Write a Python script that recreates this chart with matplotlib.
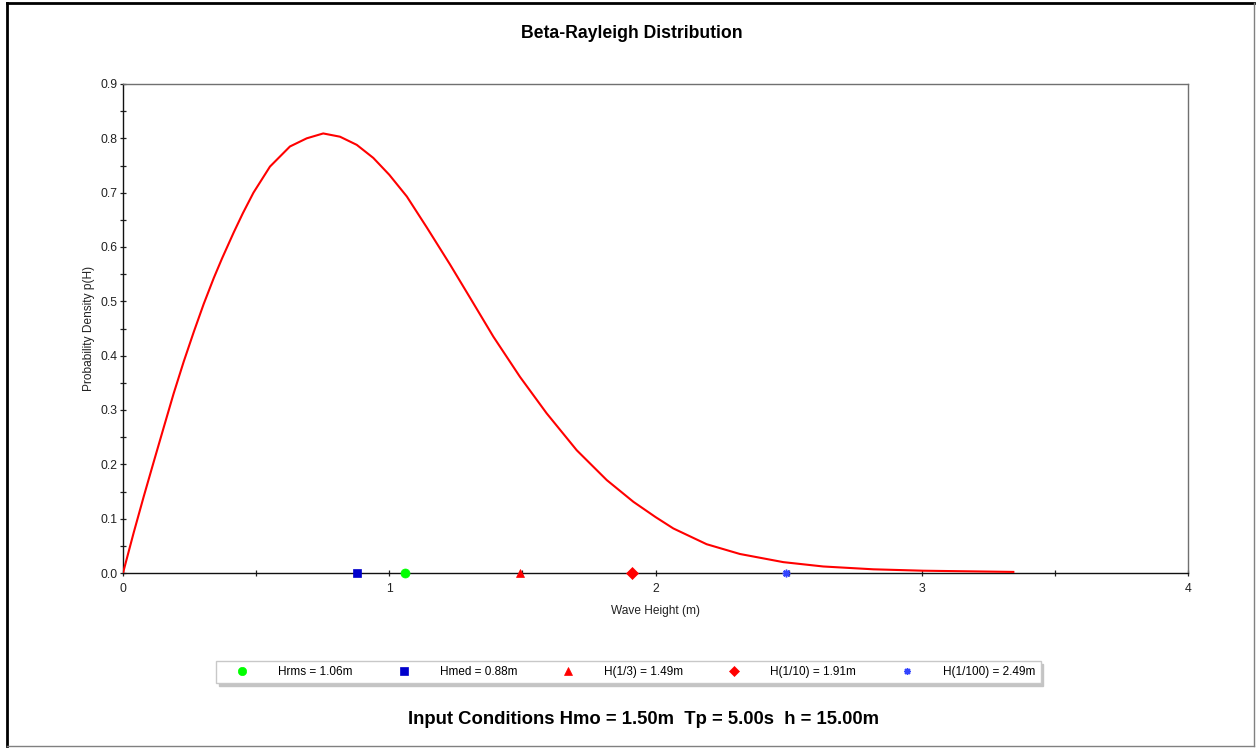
import matplotlib.pyplot as plt
from matplotlib.lines import Line2D
from matplotlib.ticker import MultipleLocator, FormatStrFormatter

plt.rcParams['font.family'] = ['Liberation Sans', 'DejaVu Sans']

# Beta-Rayleigh density
wave_height = [0, 0.040, 0.078, 0.115, 0.153, 0.190, 0.228, 0.266, 0.303, 0.341,
               0.372, 0.416, 0.45, 0.49, 0.552, 0.627, 0.69, 0.752, 0.815, 0.878,
               0.94, 1.0, 1.066, 1.141, 1.228, 1.303, 1.391, 1.491, 1.591, 1.704,
               1.817, 1.917, 2.0, 2.067, 2.192, 2.317, 2.48, 2.63, 2.818, 3.006,
               3.19, 3.344]
density = [0, 0.074, 0.141, 0.204, 0.268, 0.330, 0.389, 0.444, 0.495, 0.543,
           0.579, 0.627, 0.662, 0.700, 0.748, 0.785, 0.800, 0.809, 0.803, 0.788,
           0.764, 0.733, 0.693, 0.636, 0.568, 0.507, 0.435, 0.361, 0.294, 0.226,
           0.171, 0.131, 0.103, 0.082, 0.053, 0.035, 0.020, 0.012, 0.0068, 0.0042,
           0.003, 0.002]

# characteristic heights
stat_names = ['Hrms', 'Hmed', 'H(1/3)', 'H(1/10)', 'H(1/100)']
stat_values = [1.06, 0.88, 1.49, 1.91, 2.49]
stat_markers = ['o', 's', '^', 'D', (8, 2, 0)]
stat_colors = ['#00ff00', '#0000cc', '#ff0000', '#ff0000', '#3344ff']
stat_sizes = [6.5, 6, 6, 6, 5.5]

hmo, tp, depth = 1.50, 5.00, 15.00

W, H = 1257, 748
fig = plt.figure(figsize=(W / 100, H / 100), dpi=100)
ax = fig.add_axes([123 / W, 1 - 573 / H, (1188 - 123) / W, (573 - 84) / H])

ax.plot(wave_height, density, color='red', lw=1.5, zorder=3,
        solid_joinstyle='round')

handles = []
for name, val, mk, col, ms in zip(stat_names, stat_values, stat_markers,
                                  stat_colors, stat_sizes):
    star = mk == stat_markers[-1]
    ax.plot([val], [0], marker=mk, color=col, ms=ms, ls='none',
            mew=1.1 if star else 0.5, clip_on=False, zorder=4)
    handles.append(Line2D([], [], marker=mk, color=col, ms=ms - 0.5, ls='none',
                          mew=1.0 if star else 0.5,
                          label='%s = %.2fm' % (name, val)))

ax.set_xlim(0, 4)
ax.set_ylim(0, 0.9)
ax.xaxis.set_major_locator(MultipleLocator(1))
ax.xaxis.set_minor_locator(MultipleLocator(0.5))
ax.yaxis.set_major_locator(MultipleLocator(0.1))
ax.yaxis.set_minor_locator(MultipleLocator(0.05))
ax.yaxis.set_major_formatter(FormatStrFormatter('%.1f'))
ax.tick_params(which='both', direction='inout', length=5, width=0.9,
               labelsize=8.8, color='#222222', labelcolor='#222222')
ax.tick_params(axis='y', pad=1.5)
ax.tick_params(axis='x', pad=5)

for side in ['left', 'bottom']:
    ax.spines[side].set_color('#111111')
    ax.spines[side].set_linewidth(1.0)
for side in ['top', 'right']:
    ax.spines[side].set_color('#707070')
    ax.spines[side].set_linewidth(1.0)

ax.set_xlabel('Wave Height (m)', fontsize=8.6, labelpad=7, color='#222222')
ax.set_ylabel('Probability Density p(H)', fontsize=8.6, labelpad=4, color='#222222')

fig.text(632 / W, 1 - 33 / H, 'Beta-Rayleigh Distribution', ha='center',
         va='center', fontsize=12.7, fontweight='bold')
fig.text(643 / W, 1 - 720 / H,
         'Input Conditions Hmo = %.2fm  Tp = %.2fs  h = %.2fm' % (hmo, tp, depth),
         ha='center', va='center', fontsize=13.3, fontweight='bold')

leg = fig.legend(handles=handles, loc='upper left',
                 bbox_to_anchor=(216 / W, 1 - 661 / H), ncol=5, fontsize=8.5,
                 frameon=True, fancybox=False, borderpad=0.42, handlelength=3.58,
                 handletextpad=1.27, columnspacing=2.52, borderaxespad=0,
                 numpoints=1, shadow={'color': '#c4c4c4', 'alpha': 1})
leg.get_frame().set_edgecolor('#c8c8c8')
leg.get_frame().set_linewidth(1.0)

# outer panel border
fig.add_artist(Line2D([7 / W, 7 / W], [1 - 3 / H, 1 - 746 / H], color='black', lw=2))
fig.add_artist(Line2D([7 / W, 1254 / W], [1 - 3 / H, 1 - 3 / H], color='black', lw=2))
fig.add_artist(Line2D([1254 / W, 1254 / W], [1 - 3 / H, 1 - 746 / H], color='#808080', lw=1))
fig.add_artist(Line2D([7 / W, 1254 / W], [1 - 746 / H, 1 - 746 / H], color='#808080', lw=1))

fig.savefig('out.png', dpi=100)
